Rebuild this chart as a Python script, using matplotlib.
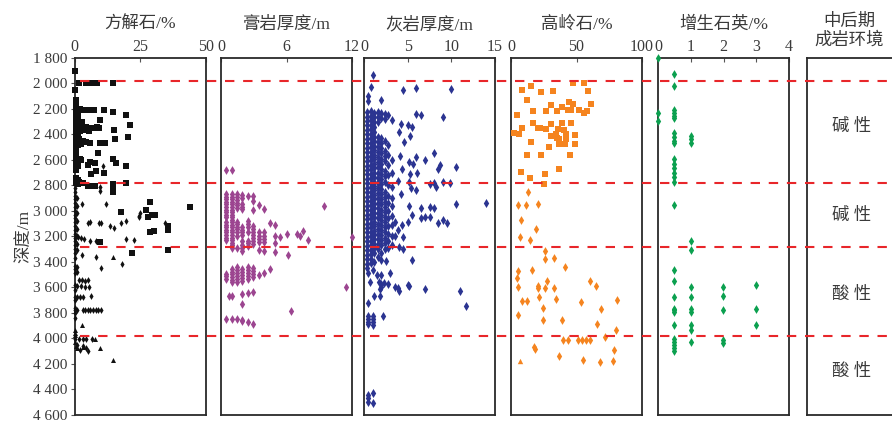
import matplotlib
matplotlib.use("Agg")
import matplotlib.pyplot as plt
from matplotlib.lines import Line2D
from matplotlib.transforms import blended_transform_factory

# ---- data (depth in m) -------------------------------------------------------
depth_ticks = [1800, 2000, 2200, 2400, 2600, 2800, 3000, 3200, 3400,
               3600, 3800, 4000, 4200, 4400, 4600]
zone_bounds = [1980, 2785, 3288, 3985]

titles = ["方解石/%", "膏岩厚度/m", "灰岩厚度/m", "高岭石/%", "增生石英/%"]
xlims = [(0, 50), (0, 12), (0, 15), (0, 100), (0, 4)]
xticks = [[0, 25, 50], [0, 6, 12], [0, 5, 10, 15], [0, 50, 100], [0, 1, 2, 3, 4]]

env_title = "中后期\n成岩环境"
env_labels = ["碱 性", "碱 性", "酸 性", "酸 性"]
env_depths = [2338, 3042, 3660, 4263]

# 方解石 - squares
calcite_sq_val = [0, 1.7, 4.3, 5.4, 6.7, 8.4, 14.8, 0,
                  1.0, 2.0, 3.0, 4.2, 5.5, 6.5, 7.5, 11.3, 14.8, 19.4, 9.7, 2.7, 21.0,
                  1.5, 3.0, 4.5, 6.0, 7.5, 8.5, 9.2, 2.0, 4.0, 5.5, 15.1,
                  20.2, 15.2, 9.7, 11.5, 1.5, 3.0, 4.5, 6.0, 2.5,
                  9.0, 2.0, 2.5, 5.9, 14.8, 15.6, 4.9, 7.9, 19.7, 8.2, 6.1, 11.3,
                  1.5, 3.0, 4.9, 6.0, 7.7, 14.8, 14.8, 14.8, 14.8, 19.4,
                  28.6, 44.0, 17.6, 27.4, 27.9, 29.5, 30.8, 35.6, 35.6, 28.6, 30.4, 9.7, 21.9, 35.6]
calcite_sq_dep = [1904, 1996, 1996, 1996, 1996, 1996, 1996, 2048,
                  2205, 2200, 2208, 2205, 2210, 2205, 2212, 2212, 2223, 2246, 2288, 2303, 2330,
                  2335, 2340, 2345, 2350, 2352, 2345, 2351, 2370, 2365, 2375, 2364,
                  2421, 2439, 2465, 2470, 2440, 2450, 2460, 2465, 2475,
                  2549, 2596, 2605, 2620, 2591, 2627, 2637, 2627, 2648, 2687, 2713, 2705,
                  2775, 2780, 2804, 2806, 2804, 2790, 2815, 2835, 2850, 2778,
                  2930, 2972, 3006, 2995, 3045, 3034, 3034, 3118, 3149, 3165, 3157, 3248, 3332, 3308]
calcite_sq_cols = [
    (0.4, [2130, 2150, 2170, 2190, 2210, 2230, 2250, 2270, 2290, 2310, 2330, 2350, 2370,
           2390, 2410, 2430, 2450, 2470, 2490, 2510, 2530, 2560, 2600, 2620, 2640, 2660,
           2680, 2740, 2760, 2780]),
    (1.2, [2200, 2230, 2260, 2300, 2340, 2380, 2420, 2450, 2480, 2620, 2650, 2760, 2790]),
]
# 方解石 - diamonds
calcite_dm_val = [10.7, 9.7, 9.7, 2.7, 11.8, 24.8, 5.2, 6.0, 9.2, 10.0, 13.6, 15.1, 17.6,
                  19.4, 24.6, 24.6, 34.5, 1.2, 2.5, 3.5, 5.9, 8.2, 19.7, 22.5, 2.8, 8.2,
                  18.2, 10.2, 1.5, 2.8, 4.1, 4.9, 0.8, 2.3, 4.0, 5.3, 0, 1.0, 2.0, 3.3,
                  6.1, 0, 1.0, 3.0, 4.0, 5.0, 6.0, 7.0, 8.0, 9.0, 10.0, 0, 1.5, 3.0,
                  4.5, 6.5, 1.0, 3.0, 4.5, 5.0, 2.0]
calcite_dm_dep = [2648, 2812, 2848, 2946, 2948, 3019, 3097, 3092, 3097, 3095, 3118, 3139, 3099,
                  3079, 3052, 3040, 3099, 3209, 3215, 3225, 3235, 3235, 3222, 3230, 3347, 3363,
                  3420, 3452, 3543, 3543, 3550, 3543, 3593, 3593, 3598, 3600, 3679, 3679, 3679, 3679,
                  3673, 3783, 3783, 3780, 3783, 3780, 3783, 3780, 3783, 3780, 3783, 4005, 4005, 4010,
                  4005, 4005, 4057, 4065, 4080, 4100, 4090]
calcite_dm_cols = [
    (0.3, [2820, 2850, 2880, 2910, 2940, 2970, 3000, 3030, 3060, 3090, 3120, 3150, 3180,
           3210, 3240, 3270, 3300, 3330, 3370, 3430, 3460, 3490, 3580, 3620, 3700, 3760,
           3800, 3840]),
    (1.0, [2900, 2960, 3020, 3080, 3140, 3200, 3260, 3310, 3440, 3480]),
]
# 方解石 - triangles
calcite_tr_val = [14.8, 2.7, 0, 0.3, 0, 7.9, 9.7, 14.8, 0.5, 3.0, 0, 0.8]
calcite_tr_dep = [3366, 3900, 3940, 3960, 3979, 4010, 4075, 4172, 4060, 4070, 4030, 4080]

# 膏岩厚度
gypsum_cols = [
    (0.43, [2679, 2870, 2890, 2910, 2930, 2950, 2970, 2990, 3010, 3030, 3050, 3090, 3110,
            3130, 3150, 3170, 3190, 3210, 3230, 3496, 3515, 3535, 3848]),
    (0.98, [2679, 2870, 2890, 2910, 2930, 2950, 2970, 2990, 3010, 3030, 3050, 3070, 3090,
            3110, 3130, 3150, 3170, 3190, 3210, 3230, 3250, 3270, 3290, 3457, 3480, 3500,
            3520, 3540, 3561, 3666, 3853]),
    (1.45, [2870, 2890, 2912, 2935, 2955, 2975, 3086, 3105, 3125, 3145, 3170, 3196, 3290,
            3444, 3465, 3490, 3515, 3535, 3556, 3848]),
    (1.94, [2875, 2900, 2948, 2968, 2987, 3131, 3150, 3170, 3190, 3240, 3265, 3290, 3315,
            3457, 3480, 3505, 3530, 3548, 3653, 3736, 3858, 3868]),
    (2.46, [2880, 3079, 3100, 3125, 3170, 3235, 3255, 3274, 3444, 3468, 3492, 3515, 3535,
            3647, 3874]),
    (2.95, [2880, 2922, 2992, 3118, 3140, 3165, 3190, 3215, 3240, 3261, 3449, 3470, 3495,
            3522, 3640, 3887]),
    (3.45, [2953, 3170, 3195, 3220, 3243, 3308, 3504]),
    (3.97, [2987, 3170, 3195, 3222, 3248, 3313, 3488]),
]
gypsum_val = [4.46, 4.95, 4.95, 4.95, 4.95, 5.45, 6.0, 6.92, 7.23, 7.5, 7.94, 6.15, 11.97,
              9.45, 4.46, 11.45, 0.74, 6.43]
gypsum_dep = [3097, 3110, 3196, 3253, 3326, 3209, 3186, 3183, 3196, 3162, 3227, 3345, 3204,
              2966, 3457, 3595, 3666, 3791]

# 灰岩厚度
lime_cols = [
    (0.4, [2225, 2260, 2295, 2330, 2365, 2400, 2435, 2470, 2505, 2540, 2575, 2610, 2645,
           2680, 2715, 2750, 2785, 2820, 2855, 2890, 2925, 2960, 2995, 3030, 3065, 3100,
           3135, 3170, 3205, 3240, 3275, 3310, 3345, 3380, 3415, 3450]),
    (0.8, [2220, 2255, 2290, 2325, 2360, 2395, 2430, 2465, 2500, 2535, 2570, 2605, 2640,
           2675, 2710, 2745, 2780, 2815, 2850, 2885, 2920, 2955, 2990, 3025, 3060, 3095,
           3130, 3165, 3200, 3235, 3270, 3305, 3340, 3375, 3410]),
    (1.2, [2230, 2265, 2300, 2340, 2380, 2420, 2455, 2490, 2525, 2560, 2595, 2630, 2665,
           2700, 2735, 2770, 2805, 2840, 2875, 2910, 2945, 2980, 3015, 3050, 3085, 3120,
           3155, 3190, 3225, 3260, 3295, 3330, 3400]),
    (1.6, [2225, 2260, 2300, 2420, 2460, 2500, 2540, 2580, 2620, 2660, 2700, 2740, 2780,
           2820, 2860, 2900, 2940, 2980, 3020, 3060, 3100, 3140, 3180, 3220, 3260, 3300, 3360]),
    (2.0, [2230, 2270, 2430, 2470, 2510, 2550, 2590, 2630, 2670, 2710, 2750, 2790, 2830,
           2870, 2910, 2950, 2990, 3030, 3070, 3110, 3150, 3190, 3230, 3270, 3330, 3390]),
    (2.4, [2240, 2280, 2450, 2530, 2570, 2610, 2690, 2730, 2770, 2850, 2890, 2930, 2970,
           3010, 3050, 3090, 3130, 3170, 3210, 3250, 3300]),
    (2.8, [2250, 2480, 2560, 2640, 2720, 2800, 2880, 2940, 3000, 3060, 3120, 3180, 3240, 3290]),
    (3.2, [2290, 2600, 2700, 2810, 2900, 2960, 3040, 3110, 3200, 3270]),
]
lime_val = [1.0, 0.77, 4.43, 6.0, 9.95, 0.46, 0.46, 2.0,
            6.0, 6.5, 9.0, 4.24, 5.05, 5.5, 4.0, 5.3, 4.6,
            8.0, 4.1, 6.0, 7.0, 5.1, 5.6, 8.7, 4.4, 5.3, 6.1, 10.5, 8.5,
            3.86, 5.1, 7.5, 8.0, 9.0, 9.9, 8.3, 5.36, 6.0, 4.24,
            10.5, 14.0, 5.1, 6.5, 7.5, 8.0,
            5.5, 6.5, 7.0, 7.5, 5.0, 8.5, 9.0, 9.5, 4.4, 3.9, 3.5,
            4.5, 3.5, 4.0, 4.5, 5.5, 2.5,
            0.5, 1.0, 1.5, 2.0, 3.0, 0.66, 1.7, 1.9, 2.0, 2.3, 1.8, 2.8, 3.5, 3.9, 4.0, 5.0,
            5.1, 7.0, 11.0, 1.2, 1.8, 0.5, 11.7, 2.2,
            0.5, 0.5, 0.5, 0.5, 1.0, 1.0, 1.0, 1.0,
            0.5, 0.5, 0.5, 1.0, 1.0]
lime_dep = [1930, 2027, 2048, 2035, 2043, 2100, 2139, 2129,
            2243, 2251, 2264, 2322, 2330, 2340, 2382, 2413, 2460,
            2544, 2570, 2578, 2604, 2617, 2635, 2643, 2669, 2713, 2703, 2653, 2669,
            2765, 2773, 2786, 2778, 2770, 2783, 2812, 2823, 2838, 2870,
            2945, 2942, 2966, 2982, 2969, 2982,
            3034, 3058, 3047, 3052, 3086, 3099, 3071, 3099, 3112, 3149, 3086,
            3209, 3196, 3287, 3300, 3384, 3397,
            3488, 3462, 3504, 3504, 3488, 3561, 3556, 3575, 3595, 3565, 3613, 3572, 3600, 3605,
            3630, 3582, 3592, 3613, 3632, 3673, 3668, 3723, 3744, 3825,
            3827, 3850, 3870, 3887, 3827, 3850, 3875, 3895,
            4448, 4470, 4500, 4435, 4506]

# 高岭石
kaol_sq_val = [47.0, 55.8, 8.7, 15.1, 23.0, 32.0, 59.0, 12.5, 4.3, 17.1, 26.9, 30.4, 35.0,
               38.9, 44.0, 47.0, 43.2, 46.0, 52.2, 55.5, 58.0, 61.0, 17.1, 8.2, 20.5, 22.0,
               26.9, 30.4, 38.9, 46.0, 35.8, 40.2, 42.0, 34.0, 35.0, 30.4, 36.3, 42.0, 41.0,
               37.0, 49.0, 49.0, 2.3, 6.4, 15.3, 29.2, 12.0, 23.0, 45.3, 7.4, 36.3, 26.1,
               14.8, 25.3]
kaol_sq_dep = [1996, 1996, 2053, 2022, 2066, 2056, 2056, 2126, 2246, 2217, 2217, 2173, 2217,
               2186, 2147, 2160, 2212, 2210, 2210, 2230, 2215, 2160, 2314, 2351, 2353, 2348,
               2356, 2322, 2309, 2309, 2361, 2369, 2400, 2395, 2426, 2413, 2439, 2434, 2478,
               2478, 2408, 2478, 2392, 2400, 2460, 2497, 2559, 2564, 2562, 2692, 2674, 2713,
               2742, 2786]
kaol_dm_val = [13.3, 5.6, 11.5, 20.5, 7.7, 19.2, 6.9, 14.6, 26.3, 26.3, 33.0, 41.4, 5.6,
               15.9, 4.3, 27.4, 60.6, 65.0, 5.6, 20.5, 20.5, 26.3, 33.0, 21.2, 8.2, 12.5,
               34.0, 53.7, 80.8, 68.6, 24.6, 5.6, 24.6, 38.9, 65.7, 80.3, 71.4, 39.6, 43.5,
               51.4, 54.5, 57.0, 60.0, 17.4, 18.4, 37.0, 78.5, 55.3, 67.8, 78.0]
kaol_dm_dep = [2849, 2956, 2956, 2948, 3073, 3144, 3204, 3227, 3313, 3379, 3371, 3439, 3473,
               3465, 3527, 3553, 3551, 3587, 3595, 3587, 3608, 3603, 3603, 3681, 3705, 3705,
               3692, 3715, 3700, 3770, 3762, 3822, 3861, 3856, 3890, 3934, 3992, 4015, 4015,
               4015, 4013, 4015, 4015, 4067, 4083, 4140, 4096, 4172, 4185, 4180]
kaol_tr_val = [6.6]
kaol_tr_dep = [4182]

# 增生石英
quartz_cols = [
    (0, [1800, 2230, 2296]),
    (0.49, [1923, 2017, 2212, 2232, 2252, 2272, 2390, 2420, 2450, 2470, 2596, 2630, 2665,
            2700, 2735, 2770, 2953, 3465, 3548, 3676, 3770, 3783, 3796, 3900, 4005, 4030,
            4055, 4080, 4105]),
    (1.0, [2413, 2440, 2465, 3238, 3308, 3598, 3679, 3770, 3796, 3895, 3940, 4031]),
    (1.97, [3595, 3673, 3778, 4018, 4036]),
    (2.99, [3580, 3770, 3895]),
]


def flatten(cols):
    vals, deps = [], []
    for v, ds in cols:
        vals += [v] * len(ds)
        deps += ds
    return vals, deps


# ---- layout ------------------------------------------------------------------
plt.rcParams["font.family"] = ["Liberation Serif", "Noto Sans CJK SC"]
text_c = "#3a3a3a"
W, H = 892, 423
top, bottom = 58, 414.5
lefts = [74.7, 221, 364, 511, 658, 807]
pw = 131

fig = plt.figure(figsize=(W / 100, H / 100), dpi=100)
axes = [fig.add_axes([l / W, 1 - bottom / H, pw / W, (bottom - top) / H]) for l in lefts]

for i, ax in enumerate(axes):
    ax.set_ylim(4600, 1800)
    for s in ax.spines.values():
        s.set_linewidth(1.3)
        s.set_color("#2a2a2a")
    if i < 5:
        ax.set_xlim(*xlims[i])
        ax.set_xticks(xticks[i])
        ax.xaxis.tick_top()
        ax.tick_params(axis="x", direction="in", length=3, width=0.8, pad=2,
                       labelsize=11.5, labelcolor=text_c, color="#555555")
        fig.text((lefts[i] + pw / 2) / W, 1 - 25 / H, titles[i], ha="center", va="center",
                 fontsize=12.5, color=text_c)
    else:
        ax.set_xlim(0, 1)
        ax.set_xticks([])
        fig.text(849 / W, 1 - 31 / H, env_title, ha="center", va="center",
                 fontsize=12.5, color=text_c, linespacing=1.15)
        for lab, d in zip(env_labels, env_depths):
            ax.text(0.34, d, lab, ha="center", va="center", fontsize=12.5, color=text_c,
                    transform=blended_transform_factory(ax.transAxes, ax.transData))
    if i == 0:
        ax.set_yticks(depth_ticks)
        ax.set_yticklabels([f"{d // 1000} {d % 1000:03d}" for d in depth_ticks])
        ax.tick_params(axis="y", direction="out", length=3, width=0.8, pad=2,
                       labelsize=11, labelcolor=text_c, color="#555555")
        ax.set_ylabel("深度/m", fontsize=12.5, color=text_c, labelpad=1)
    else:
        ax.set_yticks([])

kw = dict(linewidths=0, clip_on=False, zorder=3)

# 方解石
ax = axes[0]
v, d = flatten(calcite_sq_cols)
ax.scatter(calcite_sq_val + v, calcite_sq_dep + d, marker="s", s=13, c="#111111", **kw)
v, d = flatten(calcite_dm_cols)
ax.scatter(calcite_dm_val + v, calcite_dm_dep + d, marker="d", s=12, c="#111111", **kw)
ax.scatter(calcite_tr_val, calcite_tr_dep, marker="^", s=13, c="#111111", **kw)

# 膏岩厚度
v, d = flatten(gypsum_cols)
axes[1].scatter(v + gypsum_val, d + gypsum_dep, marker="d", s=20, c="#9C4590", **kw)

# 灰岩厚度
v, d = flatten(lime_cols)
axes[2].scatter(v + lime_val, d + lime_dep, marker="d", s=21, c="#2B3491", **kw)

# 高岭石
axes[3].scatter(kaol_sq_val, kaol_sq_dep, marker="s", s=15, c="#F5841F", **kw)
axes[3].scatter(kaol_dm_val, kaol_dm_dep, marker="d", s=20, c="#F5841F", **kw)
axes[3].scatter(kaol_tr_val, kaol_tr_dep, marker="^", s=15, c="#F5841F", **kw)

# 增生石英
v, d = flatten(quartz_cols)
axes[4].scatter(v, d, marker="d", s=20, c="#0BA04F", **kw)

# zone boundaries across all panels
tr = blended_transform_factory(fig.transFigure, axes[0].transData)
for b in zone_bounds:
    fig.add_artist(Line2D([80 / W, 1.0], [b, b], transform=tr, color="#E8262A",
                          lw=1.5, linestyle=(0, (4.5, 4.2)), zorder=5))

fig.savefig("out.png", dpi=100)
